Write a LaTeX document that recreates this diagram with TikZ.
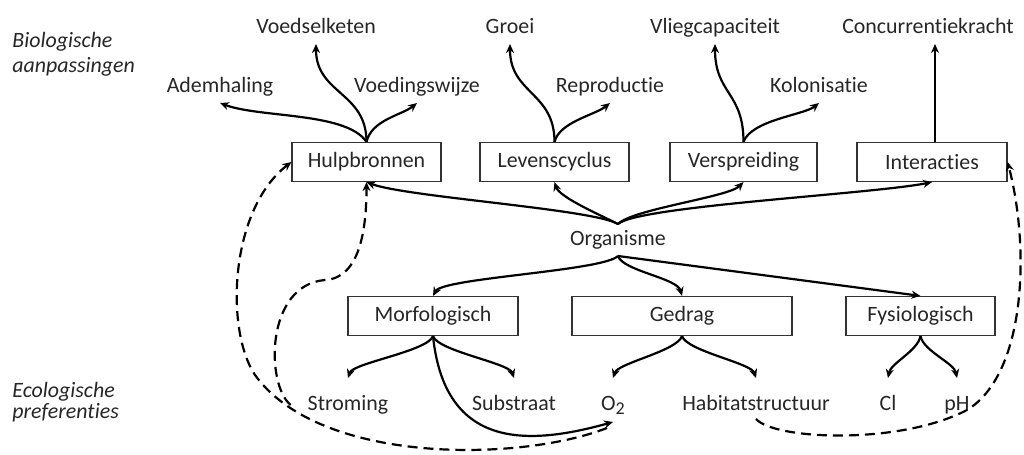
\documentclass[tikz,border=0pt,11pt]{standalone}
\usepackage{fontspec}
\setmainfont{Carlito}[Ligatures=NoCommon]
\usetikzlibrary{arrows.meta}
\tikzset{
  blok/.style={draw=black!80, line width=.6pt, minimum height=19.5pt, inner sep=0pt},
  tekst/.style={inner sep=0pt, outer sep=3pt, text height=7.5pt, text depth=2.5pt},
  onder/.style={tekst, outer sep=8.5pt},
  pijl/.style={line width=1.1pt, -{Stealth[length=4.5pt,width=4pt]}},
  stippel/.style={pijl, dash pattern=on 5pt off 3pt},
}
\begin{document}
\begin{tikzpicture}[x=.5pt,y=-.5pt,text=black!85]
	\useasboundingbox (0,0) rectangle (1024,455);
	\node[anchor=base west,inner sep=0pt,font=\itshape] (bio) at (12,47) {Biologische};
	\node[anchor=base west,inner sep=0pt,font=\itshape] (aanp) at (12,72) {aanpassingen};
	\node[anchor=base west,inner sep=0pt,font=\itshape] (eco) at (12,397) {Ecologische};
	\node[anchor=base west,inner sep=0pt,font=\itshape] (pref) at (12,418) {preferenties};

	\node[tekst] (voedselketen) at (316,28) {Voedselketen};
	\node[tekst] (groei) at (510,28) {Groei};
	\node[tekst] (vliegcap) at (715,28) {Vliegcapaciteit};
	\node[tekst] (concurrentie) at (928,28) {Concurrentiekracht};
	\node[tekst] (ademhaling) at (220,87) {Ademhaling};
	\node[tekst] (voeding) at (417,87) {Voedingswijze};
	\node[tekst] (reproductie) at (610,87) {Reproductie};
	\node[tekst] (kolonisatie) at (819,87) {Kolonisatie};

	\node[blok,minimum width=74.5pt] (hulpbronnen) at (366.5,162) {Hulpbronnen};
	\node[blok,minimum width=74.5pt] (levenscyclus) at (554.5,162) {Levenscyclus};
	\node[blok,minimum width=73.5pt] (verspreiding) at (743.5,162) {Verspreiding};
	\node[blok,minimum width=75pt] (interacties) at (932,162) {Interacties};

	\node[tekst] (organisme) at (618,240) {Organisme};

	\node[blok,minimum width=85pt] (morfologisch) at (433,316) {Morfologisch};
	\node[blok,minimum width=110pt] (gedrag) at (682,316) {Gedrag};
	\node[blok,minimum width=74.5pt] (fysiologisch) at (920.5,316) {Fysiologisch};

	\node[onder] (stroming) at (348,405) {Stroming};
	\node[onder] (substraat) at (514,405) {Substraat};
	\node[onder] (o2) at (613,405) {O\raisebox{-2.2pt}{\footnotesize 2}};
	\node[onder] (habitat) at (756,405) {Habitatstructuur};
	\node[onder] (cl) at (888,405) {Cl};
	\node[onder] (ph) at (957,405) {pH};

	\coordinate (lus1) at (325,280);
	\coordinate (lus2) at (255,375);
	\coordinate (lus3) at (967,410);

	\draw[pijl] (hulpbronnen.north) .. controls +(-20,-30) and +(40,15) .. (ademhaling.south);
	\draw[pijl] (hulpbronnen.north) .. controls +(0,-50) and +(0,50) .. (voedselketen.south);
	\draw[pijl] (hulpbronnen.north) .. controls +(5,-22) and +(-15,12) .. (voeding.south);
	\draw[pijl] (levenscyclus.north) .. controls +(0,-50) and +(0,50) .. (groei.south);
	\draw[pijl] (levenscyclus.north) .. controls +(5,-20) and +(-15,12) .. (reproductie.south);
	\draw[pijl] (verspreiding.north) .. controls +(0,-50) and +(0,50) .. (vliegcap.south);
	\draw[pijl] (verspreiding.north) .. controls +(8,-22) and +(-15,12) .. (kolonisatie.south);
	\draw[pijl] ([xshift=1.5pt]interacties.north) -- ([xshift=1.5pt]interacties.north |- concurrentie.south);

	\draw[pijl] (organisme.north) .. controls +(-25,-15) and +(40,15) .. (hulpbronnen.south);
	\draw[pijl] (organisme.north) .. controls +(-20,-10) and +(5,15) .. (levenscyclus.south);
	\draw[pijl] (organisme.north) .. controls +(15,-15) and +(-15,15) .. (verspreiding.south);
	\draw[pijl] (organisme.north) .. controls +(20,-18) and +(-60,12) .. (interacties.south);

	\draw[pijl] (organisme.south) .. controls +(-15,15) and +(10,-18) .. (morfologisch.north);
	\draw[pijl] (organisme.south) .. controls +(5,15) and +(-5,-18) .. (gedrag.north);
	\draw[pijl] (organisme.south) -- (fysiologisch.north);

	\draw[pijl] (morfologisch.south) .. controls +(-5,15) and +(5,-15) .. (stroming.north);
	\draw[pijl] (morfologisch.south) .. controls +(5,15) and +(-5,-15) .. (substraat.north);
	\draw[pijl] (morfologisch.south) .. controls +(12,115) and +(-83,23) .. ([yshift=5pt]o2.south);
	\draw[pijl] (gedrag.south) .. controls +(-5,15) and +(5,-15) .. (o2.north);
	\draw[pijl] (gedrag.south) .. controls +(5,15) and +(-5,-15) .. (habitat.north);
	\draw[pijl] (fysiologisch.south) .. controls +(-3,15) and +(3,-15) .. (cl.north);
	\draw[pijl] (fysiologisch.south) .. controls +(3,15) and +(-3,-15) .. (ph.north);

	\draw[stippel] (stroming.west) .. controls +(-25,-20) and +(-60,5) .. (lus1) .. controls +(35,-2) and +(0,47) .. (hulpbronnen.south);
	\draw[stippel] ([shift={(-3pt,2pt)}]o2.south) .. controls +(-87,34) and +(65,90) .. (lus2) .. controls +(-30,-45) and +(-62,48) .. (hulpbronnen.west);
	\draw[stippel] ([yshift=6.5pt]habitat.south) .. controls +(19,21) and +(-67,35) .. (lus3) .. controls +(58,-35) and +(23,89) .. (interacties.east);
\end{tikzpicture}
\end{document}
